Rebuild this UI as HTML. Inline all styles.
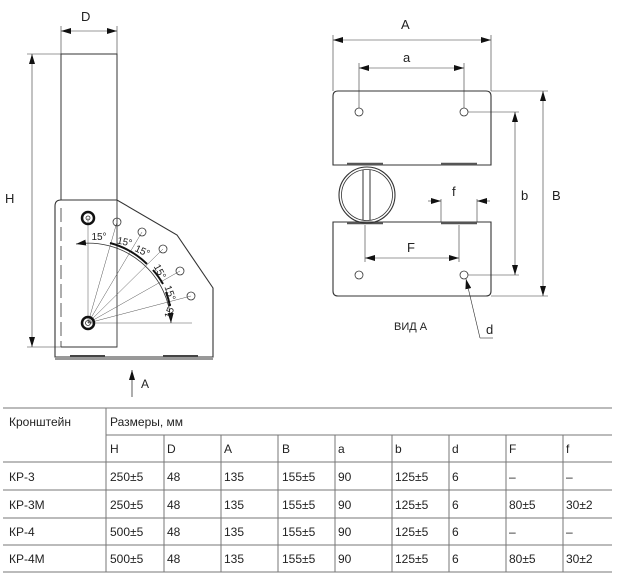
<!DOCTYPE html>
<html><head><meta charset="utf-8"><style>
html,body{margin:0;padding:0;background:#fff;width:627px;height:583px;overflow:hidden}
svg{display:block}
text{font-family:"Liberation Sans",sans-serif;fill:#222}
</style></head><body>
<svg width="627" height="583" viewBox="0 0 627 583">
<defs>
<marker id="ar" viewBox="0 0 10 6" refX="10" refY="3" markerWidth="10" markerHeight="6" markerUnits="userSpaceOnUse" orient="auto-start-reverse"><path d="M0,0 L10,3 L0,6 Z" fill="#111"/></marker>
</defs>
<g stroke="#333" fill="none" stroke-width="1">
<line x1="61" y1="26" x2="61" y2="54" stroke-width="0.6"/>
<line x1="117" y1="26" x2="117" y2="54" stroke-width="0.6"/>
<line x1="61" y1="31" x2="117" y2="31" stroke-width="0.6" marker-start="url(#ar)" marker-end="url(#ar)"/>
<line x1="27" y1="54" x2="61" y2="54" stroke-width="0.6"/>
<line x1="27" y1="347" x2="61" y2="347" stroke-width="0.6"/>
<line x1="32" y1="54" x2="32" y2="347" stroke-width="0.6" marker-start="url(#ar)" marker-end="url(#ar)"/>
<path d="M61,200 V54 H117 V200"/>
<path d="M117,200 V347 H61" stroke-width="0.9"/>
<line x1="61" y1="208" x2="61" y2="347" stroke-dasharray="14,5" stroke-width="0.8"/>
<path d="M55,357 V206 Q55,200 61,200 H117 L177,235 L213,288 V357 Z" stroke-width="1.1"/>
<line x1="55" y1="359" x2="213" y2="359" stroke-width="1.5" stroke="#777"/>
<line x1="70" y1="356" x2="105" y2="356" stroke-width="2" stroke="#444"/>
<line x1="163" y1="356" x2="198" y2="356" stroke-width="2" stroke="#444"/>
<g stroke-width="0.5" stroke="#555">
<line x1="88" y1="323" x2="88" y2="218"/>
<line x1="88" y1="323" x2="192" y2="323"/>
<line x1="88" y1="323" x2="117" y2="222"/>
<line x1="88" y1="323" x2="142" y2="232"/>
<line x1="88" y1="323" x2="163" y2="249"/>
<line x1="88" y1="323" x2="180" y2="271"/>
<line x1="88" y1="323" x2="191" y2="296"/>
</g>
<path d="M76,244 A83,83 0 0 1 171,323" stroke-width="0.8" marker-start="url(#ar)" marker-end="url(#ar)"/>
<path d="M110,243 A83,83 0 0 1 147,264" stroke-width="2" stroke="#111"/>
<path d="M153,270 A83,83 0 0 1 163,284" stroke-width="2" stroke="#111"/>
<path d="M166,292 A83,83 0 0 1 170,306" stroke-width="2" stroke="#111"/>
<g stroke-width="0.8">
<circle cx="117" cy="222" r="4"/><circle cx="142" cy="232" r="4"/><circle cx="163" cy="249" r="4"/>
<circle cx="180" cy="271" r="4"/><circle cx="191" cy="296" r="4"/>
</g>
<circle cx="88" cy="218" r="6" stroke-width="2.5" stroke="#111"/><circle cx="88" cy="218" r="2" stroke-width="0.8"/>
<circle cx="88" cy="323" r="6" stroke-width="2.5" stroke="#111"/><circle cx="88" cy="323" r="2.5" stroke-width="0.8"/>
<line x1="132" y1="397" x2="132" y2="370" stroke-width="0.8" marker-end="url(#ar)"/>

<path d="M333,165 V96 Q333,91 338,91 H486 Q491,91 491,96 V165 Z" stroke-width="1.1"/>
<path d="M333,222 V291 Q333,296 338,296 H486 Q491,296 491,291 V222 Z" stroke-width="1.1"/>
<line x1="347" y1="164" x2="383" y2="164" stroke-width="2.5" stroke="#555"/>
<line x1="441" y1="164" x2="477" y2="164" stroke-width="2.5" stroke="#555"/>
<line x1="347" y1="223" x2="383" y2="223" stroke-width="2.5" stroke="#555"/>
<line x1="441" y1="223" x2="477" y2="223" stroke-width="2.5" stroke="#555"/>
<circle cx="367" cy="195" r="28" stroke-width="1.1"/>
<circle cx="367" cy="195" r="25.5" stroke-width="0.8"/>
<line x1="363" y1="170" x2="363" y2="220"/><line x1="370" y1="170" x2="370" y2="220"/>
<g stroke-width="0.8">
<circle cx="359" cy="112" r="4"/><circle cx="464" cy="112" r="4"/>
<circle cx="359" cy="275" r="4"/><circle cx="464" cy="275" r="4"/>
</g>
<g stroke-width="0.6">
<line x1="333" y1="35" x2="333" y2="91"/><line x1="491" y1="35" x2="491" y2="91"/>
<line x1="333" y1="40" x2="491" y2="40" marker-start="url(#ar)" marker-end="url(#ar)"/>
<line x1="359" y1="63" x2="359" y2="108"/><line x1="464" y1="63" x2="464" y2="108"/>
<line x1="359" y1="68" x2="464" y2="68" marker-start="url(#ar)" marker-end="url(#ar)"/>
<line x1="491" y1="91" x2="548" y2="91"/><line x1="491" y1="296" x2="548" y2="296"/>
<line x1="543" y1="91" x2="543" y2="296" marker-start="url(#ar)" marker-end="url(#ar)"/>
<line x1="468" y1="112" x2="519" y2="112"/><line x1="468" y1="275" x2="519" y2="275"/>
<line x1="515" y1="112" x2="515" y2="275" marker-start="url(#ar)" marker-end="url(#ar)"/>
<line x1="441" y1="199" x2="441" y2="222"/><line x1="477" y1="199" x2="477" y2="222"/>
<line x1="428" y1="201" x2="441" y2="201" marker-end="url(#ar)"/>
<line x1="490" y1="201" x2="477" y2="201" marker-end="url(#ar)"/>
<line x1="365" y1="225" x2="365" y2="262"/><line x1="459" y1="225" x2="459" y2="262"/>
<line x1="365" y1="258" x2="459" y2="258" marker-start="url(#ar)" marker-end="url(#ar)"/>
<path d="M480,338 L466,279" marker-end="url(#ar)"/><line x1="480" y1="338" x2="493" y2="338"/>
</g>

<g stroke="#777" stroke-width="1">
<line x1="3" y1="408" x2="612" y2="408"/>
<line x1="106" y1="435" x2="612" y2="435"/>
<line x1="3" y1="462" x2="612" y2="462"/>
<line x1="3" y1="490" x2="612" y2="490"/>
<line x1="3" y1="518" x2="612" y2="518"/>
<line x1="3" y1="545" x2="612" y2="545"/>
<line x1="3" y1="572" x2="612" y2="572"/>
<line x1="106" y1="408" x2="106" y2="572"/>
<line x1="164" y1="435" x2="164" y2="572"/><line x1="221" y1="435" x2="221" y2="572"/>
<line x1="278" y1="435" x2="278" y2="572"/><line x1="335" y1="435" x2="335" y2="572"/>
<line x1="392" y1="435" x2="392" y2="572"/><line x1="449" y1="435" x2="449" y2="572"/>
<line x1="506" y1="435" x2="506" y2="572"/><line x1="563" y1="435" x2="563" y2="572"/>
</g>
</g>

<g font-size="13">
<text x="81" y="21">D</text>
<text x="5" y="203">H</text>
<text x="141" y="388" font-size="12">A</text>
<text x="401" y="29">A</text>
<text x="403" y="62">a</text>
<text x="452" y="196">f</text>
<text x="407" y="252">F</text>
<text x="521" y="200">b</text>
<text x="552" y="200">B</text>
<text x="486" y="334">d</text>
<text x="394" y="330" font-size="11">ВИД А</text>
</g>
<g font-size="10" fill="#333" text-anchor="middle">
<text transform="translate(99,240)">15°</text>
<text transform="translate(124,245) rotate(12)">15°</text>
<text transform="translate(141,254) rotate(25)">15°</text>
<text transform="translate(157,273) rotate(62)">15°</text>
<text transform="translate(167,294) rotate(70)">15°</text>
<text transform="translate(173,312) rotate(-70)">15°</text>
</g>
<g font-size="12" font-family="Liberation Sans Narrow, Liberation Sans, sans-serif">
<text x="9" y="426">Кронштейн</text>
<text x="110" y="426">Размеры, мм</text>
<text x="110" y="453">H</text><text x="167" y="453">D</text><text x="224" y="453">A</text><text x="282" y="453">B</text><text x="338" y="453">a</text><text x="395" y="453">b</text><text x="452" y="453">d</text><text x="509" y="453">F</text><text x="566" y="453">f</text>
<text x="9" y="481">КР-3</text><text x="110" y="481">250±5</text><text x="167" y="481">48</text><text x="224" y="481">135</text><text x="282" y="481">155±5</text><text x="338" y="481">90</text><text x="395" y="481">125±5</text><text x="452" y="481">6</text><text x="509" y="481">–</text><text x="566" y="481">–</text>
<text x="9" y="509">КР-3М</text><text x="110" y="509">250±5</text><text x="167" y="509">48</text><text x="224" y="509">135</text><text x="282" y="509">155±5</text><text x="338" y="509">90</text><text x="395" y="509">125±5</text><text x="452" y="509">6</text><text x="509" y="509">80±5</text><text x="566" y="509">30±2</text>
<text x="9" y="536">КР-4</text><text x="110" y="536">500±5</text><text x="167" y="536">48</text><text x="224" y="536">135</text><text x="282" y="536">155±5</text><text x="338" y="536">90</text><text x="395" y="536">125±5</text><text x="452" y="536">6</text><text x="509" y="536">–</text><text x="566" y="536">–</text>
<text x="9" y="563">КР-4М</text><text x="110" y="563">500±5</text><text x="167" y="563">48</text><text x="224" y="563">135</text><text x="282" y="563">155±5</text><text x="338" y="563">90</text><text x="395" y="563">125±5</text><text x="452" y="563">6</text><text x="509" y="563">80±5</text><text x="566" y="563">30±2</text>
</g>
</svg>
</body></html>
